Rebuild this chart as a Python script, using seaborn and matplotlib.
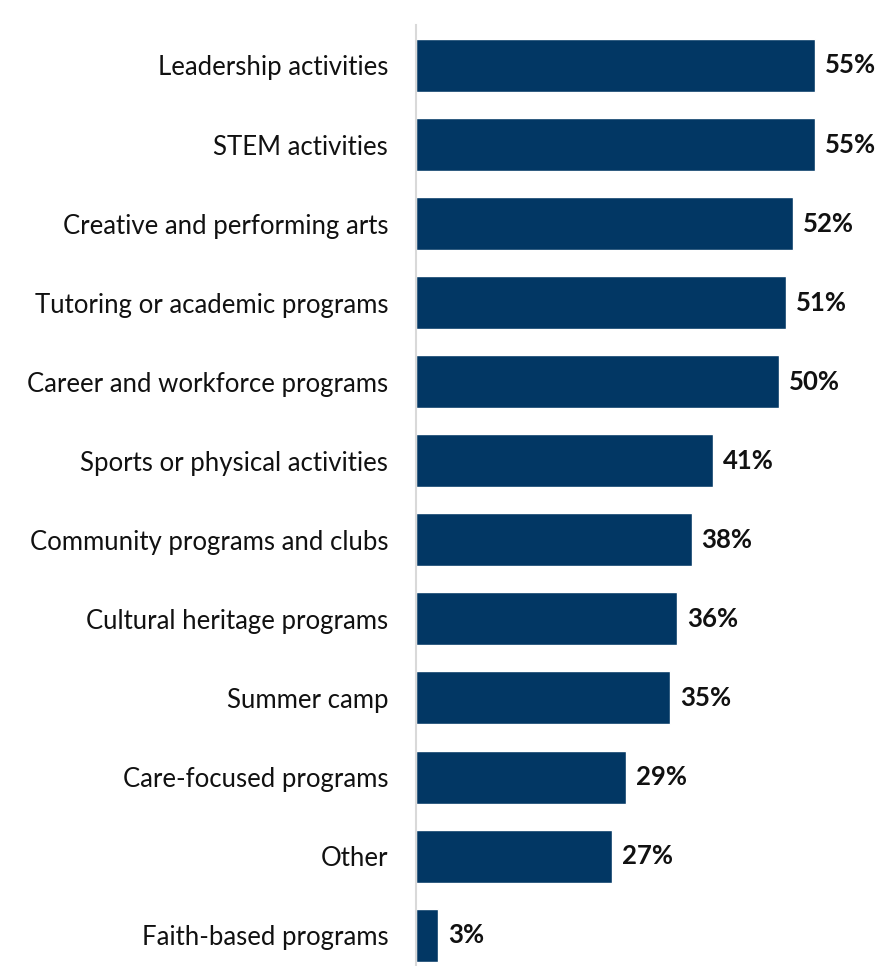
import matplotlib
matplotlib.use("Agg")
import matplotlib.pyplot as plt
import seaborn as sns
import pandas as pd

categories = [
    "Leadership activities",
    "STEM activities",
    "Creative and performing arts",
    "Tutoring or academic programs",
    "Career and workforce programs",
    "Sports or physical activities",
    "Community programs and clubs",
    "Cultural heritage programs",
    "Summer camp",
    "Care-focused programs",
    "Other",
    "Faith-based programs",
]
values = [55, 55, 52, 51, 50, 41, 38, 36, 35, 29, 27, 3]

df = pd.DataFrame({"category": categories, "value": values})

sns.set_theme(style="white")
plt.rcParams["font.family"] = ["Lato", "DejaVu Sans"]

W, H = 877, 966
fig = plt.figure(figsize=(W / 100, H / 100), dpi=100)
ax = fig.add_axes([416 / W, 0, 1 - 416 / W, (966 - 25) / H])

bar_color = "#023764"
sns.barplot(data=df, x="value", y="category", orient="h", color=bar_color,
            width=0.67, saturation=1, ax=ax)

ax.set_xlim(0, (W - 416) / 7.25)
ax.set_ylim(len(categories) - 1 + 0.39, -0.512)

for i, v in enumerate(values):
    ax.text(v + 1.4, i, f"{v}%", va="center", ha="left",
            fontsize=18.5, fontweight="bold", color="#111111")

ax.set_xlabel("")
ax.set_ylabel("")
ax.set_xticks([])
ax.tick_params(axis="y", length=0, pad=20, labelsize=18.5, labelcolor="#111111")
for side in ["top", "right", "bottom"]:
    ax.spines[side].set_visible(False)
ax.spines["left"].set_color("#d9d9d9")
ax.spines["left"].set_linewidth(1.5)

fig.savefig("out.png", dpi=100)
